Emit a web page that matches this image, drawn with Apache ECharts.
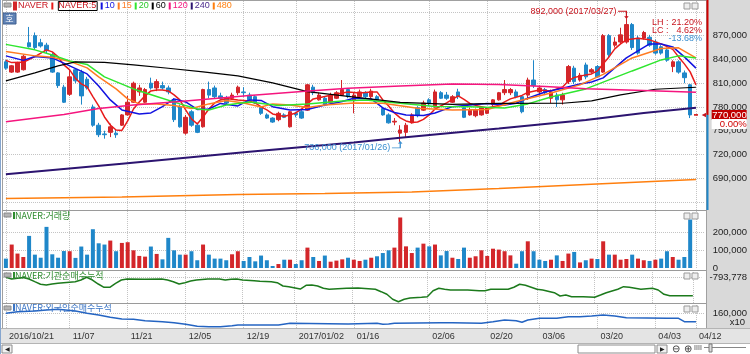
<!DOCTYPE html>
<html>
<head>
<meta charset="utf-8">
<script src="https://cdn.jsdelivr.net/npm/echarts@6/dist/echarts.min.js"></script>
<style>
html, body { margin: 0; padding: 0; background: #fff; }
#chart { width: 750px; height: 354px; }
</style>
</head>
<body>
<div id="chart"></div>
<script>
const FONT = "'Liberation Sans Narrow','Liberation Sans',Arial,sans-serif";
const KR = "'Noto Sans CJK KR','Liberation Sans',sans-serif";
const UP = '#d3262a', DOWN = '#1f87c9';

// trading days shown on the chart
const dates = [
  '2016/10/21','2016/10/24','2016/10/25','2016/10/26','2016/10/27','2016/10/28','2016/10/31',
  '2016/11/01','2016/11/02','2016/11/03','2016/11/04','2016/11/07','2016/11/08','2016/11/09','2016/11/10','2016/11/11',
  '2016/11/14','2016/11/15','2016/11/16','2016/11/17','2016/11/18','2016/11/21','2016/11/22','2016/11/23','2016/11/24','2016/11/25',
  '2016/11/28','2016/11/29','2016/11/30',
  '2016/12/01','2016/12/02','2016/12/05','2016/12/06','2016/12/07','2016/12/08','2016/12/09',
  '2016/12/12','2016/12/13','2016/12/14','2016/12/15','2016/12/16','2016/12/19','2016/12/20','2016/12/21','2016/12/22','2016/12/23',
  '2016/12/26','2016/12/27','2016/12/28','2016/12/29',
  '2017/01/02','2017/01/03','2017/01/04','2017/01/05','2017/01/06','2017/01/09','2017/01/10','2017/01/11','2017/01/12','2017/01/13',
  '2017/01/16','2017/01/17','2017/01/18','2017/01/19','2017/01/20','2017/01/23','2017/01/24','2017/01/25','2017/01/26','2017/01/31',
  '2017/02/01','2017/02/02','2017/02/03','2017/02/06','2017/02/07','2017/02/08','2017/02/09','2017/02/10',
  '2017/02/13','2017/02/14','2017/02/15','2017/02/16','2017/02/17','2017/02/20','2017/02/21','2017/02/22','2017/02/23','2017/02/24',
  '2017/02/27','2017/02/28',
  '2017/03/02','2017/03/03','2017/03/06','2017/03/07','2017/03/08','2017/03/09','2017/03/10',
  '2017/03/13','2017/03/14','2017/03/15','2017/03/16','2017/03/17','2017/03/20','2017/03/21','2017/03/22','2017/03/23','2017/03/24',
  '2017/03/27','2017/03/28','2017/03/29','2017/03/30','2017/03/31',
  '2017/04/03','2017/04/04','2017/04/05','2017/04/06','2017/04/07','2017/04/10','2017/04/11','2017/04/12'
];
const tickDates = ['2016/10/21','2016/11/07','2016/11/21','2016/12/05','2016/12/19','2017/01/02','2017/01/16',
  '2017/02/06','2017/02/20','2017/03/06','2017/03/20','2017/04/03','2017/04/12'];
const fullDates = ['2016/10/21', '2017/01/02'];

const openP = [
  837000, 824000, 824000, 827000, 861000, 870000, 861000, 858000, 846000, 823000,
  805000, 796000, 827000, 824000, 815000, 780000, 757000, 746000, 748000, 747000,
  757000, 770000, 786000, 799000, 786000, 810000, 804000, 807000, 804000, 789000,
  780000, 747000, 774000, 757000, 755000, 802000, 804000, 794000, 791000, 791000,
  798000, 799000, 795000, 793000, 779000, 770000, 766000, 764000, 770000, 755000,
  772000, 774000, 776000, 805000, 789000, 791000, 786000, 791000, 795000, 802000,
  789000, 793000, 798000, 793000, 793000, 778000, 770000, 761000, 747000, 748000,
  760000, 779000, 776000, 789000, 780000, 798000, 795000, 786000, 799000, 779000,
  770000, 769000, 770000, 772000, 783000, 789000, 798000, 798000, 799000, 793000,
  795000, 814000, 799000, 802000, 791000, 795000, 789000, 812000, 829000, 814000,
  833000, 824000, 831000, 824000, 870000, 858000, 862000, 862000, 884000, 867000,
  867000, 868000, 862000, 856000, 852000, 831000, 837000, 823000, 808000
];
const closeP = [
  829000, 832000, 836000, 844000, 856000, 855000, 857000, 851000, 824000, 807000,
  786000, 818000, 813000, 794000, 804000, 757000, 745000, 745000, 755000, 745000,
  770000, 786000, 810000, 804000, 802000, 804000, 812000, 804000, 799000, 764000,
  755000, 767000, 757000, 748000, 802000, 795000, 793000, 791000, 785000, 795000,
  805000, 798000, 789000, 785000, 772000, 766000, 761000, 772000, 767000, 774000,
  770000, 766000, 808000, 798000, 795000, 783000, 795000, 798000, 802000, 793000,
  795000, 799000, 793000, 800000, 789000, 770000, 760000, 762000, 751000, 757000,
  770000, 769000, 785000, 784000, 799000, 791000, 791000, 793000, 793000, 767000,
  776000, 776000, 779000, 779000, 789000, 798000, 802000, 802000, 793000, 774000,
  814000, 807000, 804000, 798000, 799000, 789000, 795000, 831000, 812000, 820000,
  818000, 827000, 818000, 870000, 846000, 862000, 871000, 884000, 855000, 848000,
  874000, 858000, 848000, 848000, 839000, 837000, 824000, 817000, 770000
];
const lowP = [
  827000, 823000, 823000, 826000, 855000, 852000, 855000, 848000, 823000, 804000,
  785000, 794000, 810000, 783000, 802000, 755000, 742000, 740000, 742000, 741000,
  756000, 769000, 785000, 794000, 785000, 802000, 800000, 802000, 796000, 761000,
  754000, 745000, 755000, 747000, 754000, 791000, 791000, 789000, 783000, 789000,
  795000, 793000, 788000, 784000, 770000, 765000, 760000, 762000, 766000, 754000,
  767000, 765000, 775000, 795000, 788000, 781000, 785000, 790000, 794000, 791000,
  772000, 791000, 791000, 791000, 788000, 769000, 759000, 757000, 736000, 741000,
  759000, 767000, 775000, 781000, 779000, 790000, 789000, 785000, 790000, 766000,
  769000, 767000, 769000, 771000, 781000, 788000, 795000, 795000, 791000, 772000,
  789000, 804000, 796000, 795000, 785000, 780000, 783000, 809000, 809000, 812000,
  815000, 822000, 817000, 823000, 843000, 855000, 860000, 860000, 852000, 846000,
  865000, 856000, 846000, 846000, 837000, 824000, 822000, 810000, 766000
];
const highP = [
  839000, 833000, 837000, 846000, 881000, 874000, 866000, 861000, 848000, 824000,
  808000, 827000, 829000, 827000, 818000, 783000, 760000, 750000, 759000, 751000,
  771000, 794000, 812000, 808000, 804000, 817000, 815000, 812000, 807000, 791000,
  783000, 770000, 776000, 760000, 803000, 812000, 807000, 798000, 794000, 798000,
  807000, 805000, 798000, 795000, 781000, 772000, 767000, 774000, 772000, 775000,
  774000, 776000, 809000, 808000, 798000, 794000, 798000, 800000, 814000, 804000,
  798000, 802000, 800000, 803000, 795000, 780000, 772000, 766000, 757000, 760000,
  772000, 781000, 788000, 791000, 802000, 800000, 799000, 795000, 803000, 781000,
  779000, 778000, 781000, 780000, 790000, 799000, 814000, 804000, 802000, 795000,
  817000, 839000, 807000, 804000, 802000, 798000, 798000, 833000, 832000, 823000,
  836000, 829000, 833000, 872000, 872000, 868000, 880000, 892000, 886000, 870000,
  876000, 871000, 865000, 858000, 855000, 839000, 839000, 826000, 809000
];
const volume = [
  52000, 130000, 80000, 61000, 178000, 74000, 57000, 228000, 76000, 57000,
  94000, 93000, 56000, 119000, 74000, 215000, 137000, 130000, 152000, 93000,
  139000, 143000, 98000, 67000, 63000, 119000, 78000, 48000, 167000, 98000,
  74000, 74000, 93000, 43000, 130000, 74000, 52000, 52000, 43000, 76000,
  93000, 39000, 61000, 37000, 69000, 43000, 11000, 22000, 46000, 46000,
  22000, 43000, 113000, 61000, 39000, 69000, 35000, 41000, 48000, 57000,
  46000, 39000, 46000, 57000, 65000, 83000, 98000, 113000, 280000, 120000,
  83000, 113000, 135000, 120000, 130000, 70000, 94000, 57000, 50000, 113000,
  57000, 65000, 98000, 67000, 107000, 102000, 93000, 70000, 24000, 93000,
  148000, 93000, 46000, 39000, 46000, 70000, 39000, 80000, 89000, 31000,
  43000, 52000, 50000, 148000, 74000, 74000, 46000, 50000, 74000, 52000,
  43000, 39000, 46000, 52000, 93000, 61000, 46000, 61000, 269000
];
const volUp = [
  0,1,1,1,0,0,0,0,0,0, 0,1,0,0,0,0,0,0,1,0, 1,1,1,1,1,0,1,0,0,0, 0,1,0,0,1,0,0,0,0,1,
  1,0,0,0,0,0,0,1,0,1, 0,0,1,0,1,0,1,1,1,0, 1,1,0,1,0,0,0,1,1,1, 1,0,1,0,1,0,0,1,0,0,
  1,1,1,1,1,1,1,1,0,0, 1,0,0,0,1,0,1,1,0,1, 0,1,0,1,0,1,1,1,0,1, 1,0,1,0,0,1,0,0,0
];

// moving averages as drawn, [day index, price]
const ma5 = [[0,838800],[1,836000],[3,836300],[5,843600],[7,852100],[8,849500],[9,843200],[10,833100],[11,826800],
  [12,816100],[13,809100],[14,805300],[15,793100],[16,781300],[17,767400],[18,757300],[19,751000],[20,750400],
  [21,762400],[22,777500],[23,786400],[24,794000],[25,800300],[26,801500],[27,801500],[28,800300],[29,795200],
  [30,788900],[31,776300],[32,764900],[33,758600],[34,767400],[35,777500],[36,785100],[37,788900],[38,790800],
  [40,788900],[42,787600],[43,785100],[44,780100],[45,776300],[46,771200],[48,768100],[50,772500],[51,777500],
  [52,783900],[53,790200],[55,793100],[57,796500],[59,799000],[61,797700],[63,799000],[64,799000],[65,788900],
  [66,781300],[67,772500],[68,766200],[69,762400],[70,760500],[71,761100],[72,764300],[73,770000],[74,777500],
  [76,785100],[78,794000],[79,789500],[80,784500],[81,782000],[83,778800],[85,781900],[86,786400],[87,790200],
  [89,794600],[90,798400],[92,801500],[94,800300],[95,802800],[96,805300],[97,812900],[98,817300],[100,820500],
  [101,821700],[102,825500],[103,834400],[104,843200],[105,853300],[106,859600],[107,864700],[109,866600],
  [111,864700],[113,859600],[115,852700],[116,843200],[117,834400],[118,824300],[119,807900]];
const ma10 = [[0,844500],[3,838800],[5,843600],[8,841900],[11,831800],[14,821700],[16,806600],[18,788900],
  [20,776300],[23,771200],[25,772500],[27,780400],[29,790200],[31,786400],[33,776900],[35,777500],[37,784500],
  [40,781300],[42,788900],[44,788300],[46,780400],[49,776300],[52,776900],[55,782600],[58,786800],[60,791100],
  [63,790200],[65,778800],[67,773100],[69,770000],[72,769300],[74,772500],[77,780400],[80,782600],[83,784500],
  [86,782600],[88,784700],[90,791100],[93,799000],[96,803700],[99,809100],[101,811600],[103,816700],[105,829300],
  [107,841900],[109,850800],[111,859600],[113,859600],[115,855800],[117,843200],[119,829000]];
const ma15 = [[0,849900],[5,844500],[8,842800],[11,837500],[14,829300],[16,818000],[19,802800],[21,790200],
  [23,783900],[26,783900],[29,781900],[32,778200],[35,783900],[38,788300],[41,785100],[44,780100],[46,783900],
  [49,782600],[52,779400],[55,782600],[60,785100],[65,784700],[71,778400],[77,776300],[83,776900],[88,786800],
  [94,797700],[99,807900],[103,821100],[108,841900],[113,853900],[116,854600],[119,841900]];
const ma20 = [[0,859000],[5,852100],[8,845700],[11,838200],[14,833700],[17,818000],[22,802800],[26,793300],
  [30,783900],[33,777500],[35,776300],[38,782600],[42,786400],[47,782000],[52,783900],[58,787600],[62,788900],
  [68,784700],[74,780700],[80,780400],[86,778800],[90,783900],[94,792700],[100,802800],[104,814200],[108,825500],
  [113,839400],[116,844500],[119,841900]];
const ma60 = [[0,812900],[5,823000],[9,831800],[12,836900],[17,836300],[22,833100],[28,828900],[34,824300],
  [40,819200],[46,810400],[52,799400],[59,793300],[68,785700],[77,783200],[85,784500],[96,784700],[101,787600],
  [106,795200],[112,802400],[119,804900]];
const ma120 = [[0,761500],[10,770600],[16,778200],[22,782600],[30,787000],[42,794600],[51,799400],[59,803700],
  [68,806600],[77,809100],[85,808500],[93,806000],[100,803100],[110,800900],[119,798600]];
const ma240 = [[0,695100],[20,708500],[42,723600],[60,735200],[68,741300],[85,752900],[100,763600],[110,772500],[119,779000]];
const ma480 = [[0,664500],[20,666400],[40,669600],[55,670800],[70,672700],[85,677100],[100,682200],[119,688600]];

// cumulative net buying, institutions (shares) and foreigners (x10 shares)
const instCum = [[0,-801000],[1,-844000],[3,-806000],[4,-844000],[5,-911000],[6,-976000],[7,-994000],[8,-969000],
  [9,-951000],[10,-936000],[12,-911000],[13,-869000],[14,-801000],[15,-869000],[16,-969000],[17,-1051000],
  [18,-1051000],[19,-951000],[20,-869000],[21,-844000],[24,-851000],[27,-844000],[28,-869000],[29,-911000],
  [30,-969000],[31,-936000],[32,-894000],[33,-869000],[35,-844000],[37,-844000],[38,-869000],[39,-851000],
  [40,-844000],[41,-869000],[43,-886000],[44,-901000],[46,-911000],[47,-936000],[48,-1019000],[49,-1036000],
  [51,-1094000],[52,-1001000],[53,-994000],[54,-1019000],[55,-1076000],[56,-1101000],[59,-1076000],[61,-1069000],
  [64,-1101000],[65,-1161000],[66,-1226000],[67,-1351000],[68,-1411000],[69,-1351000],[70,-1319000],[72,-1301000],
  [73,-1286000],[74,-1136000],[75,-1076000],[76,-1101000],[77,-1119000],[80,-1119000],[82,-1136000],[83,-1136000],
  [84,-1101000],[87,-1101000],[88,-1051000],[89,-976000],[90,-1001000],[91,-1051000],[92,-1101000],[93,-1119000],
  [95,-1186000],[96,-1269000],[97,-1244000],[98,-1286000],[100,-1286000],[102,-1301000],[103,-1244000],
  [104,-1186000],[106,-1101000],[107,-1036000],[108,-1051000],[110,-1101000],[111,-1086000],[112,-1076000],
  [113,-1119000],[114,-1226000],[115,-1261000],[119,-1261000]];
const foreignCum = [[0,158500],[2,166500],[5,170000],[7,175000],[9,178500],[12,170000],[14,158500],[16,150000],
  [18,138500],[20,130000],[22,128500],[24,121500],[27,116500],[29,111500],[31,103500],[33,93500],[35,91500],
  [37,91500],[39,96500],[40,100000],[47,100000],[49,108500],[59,105000],[64,108500],[65,103500],[66,105000],
  [67,108500],[75,111500],[77,111500],[82,108500],[84,116500],[86,125000],[88,121500],[89,113500],[90,125000],
  [92,133500],[95,133500],[97,141500],[99,141500],[101,145000],[103,150000],[105,145000],[107,136500],
  [114,133500],[116,133500],[117,116500],[119,116500]];

const priceTicks = [660000, 690000, 720000, 750000, 780000, 810000, 840000, 870000, 900000];
const priceLabels = [690000, 720000, 750000, 780000, 810000, 840000, 870000];

const fmt = v => v.toLocaleString('en-US');
const cats = dates.concat(['']);
const last = closeP.length - 1;
const lastClose = closeP[last];
const hiVal = Math.max(...highP), hiIdx = highP.indexOf(hiVal);
const loVal = Math.min(...lowP), loIdx = lowP.indexOf(loVal);
const pct = (a, b) => ((a - b) / b * 100).toFixed(2) + '%';

const candleData = openP.map((o, i) => [o, closeP[i], lowP[i], highP[i]]);
const volData = volume.map((v, i) => ({ value: v, itemStyle: { color: volUp[i] ? UP : DOWN } }));
const vLines = {
  silent: true, symbol: 'none', z: 1, animation: false,
  label: { show: false },
  lineStyle: { color: '#c4c4c4', type: 'dotted', width: 1 },
  data: tickDates.map(d => ({ xAxis: d }))
};

const maDefs = [
  ['NAVER:5', ma5, '#e81b1b', 1.5],
  ['10', ma10, '#1212e0', 1.5],
  ['15', ma15, '#ff7b22', 1.5],
  ['20', ma20, '#2fe62f', 1.5],
  ['60', ma60, '#000000', 1.2],
  ['120', ma120, '#f5157e', 1.5],
  ['240', ma240, '#2c1470', 2],
  ['480', ma480, '#ff7f0e', 1.5]
];
const legendColors = ['#c8141e', '#c8141e', '#1212e0', '#ff7b22', '#2cc82c', '#000000', '#f5157e', '#4b2a8c', '#ff7f0e'];

function yAx(grid, min, max, labels, ticks) {
  return {
    type: 'value', gridIndex: grid, position: 'right', min: min, max: max,
    axisLine: { show: false },
    axisTick: { show: false, customValues: ticks },
    splitLine: { show: true, lineStyle: { color: '#c4c4c4', type: 'dotted', width: 1 } },
    axisLabel: { customValues: labels, margin: 8, color: '#222', fontSize: 9.5, fontFamily: FONT, formatter: fmt }
  };
}
function xAx(grid) {
  const a = {
    type: 'category', gridIndex: grid, data: cats, boundaryGap: true,
    axisLine: { show: false }, axisTick: { show: false }, splitLine: { show: false },
    axisLabel: { show: false }
  };
  if (grid === 3) {
    a.axisLabel = {
      show: true, interval: (i, v) => tickDates.indexOf(v) >= 0,
      formatter: v => fullDates.indexOf(v) >= 0 ? v : v.slice(5),
      align: 'left', margin: 4, padding: [0, 0, 0, 3], color: '#333', fontSize: 9, fontFamily: FONT
    };
  }
  return a;
}

function rect(id, x, y, w, h, fill, stroke, z) {
  return { type: 'rect', id: id, z: z == null ? -1 : z, silent: true,
    shape: { x: x, y: y, width: w, height: h }, style: { fill: fill, stroke: stroke || null, lineWidth: 1 } };
}
function line(id, x1, y1, x2, y2, color, w) {
  return { type: 'line', id: id, z: 8, silent: true, shape: { x1: x1, y1: y1, x2: x2, y2: y2 },
    style: { stroke: color, lineWidth: w || 1 } };
}
function txt(id, x, y, text, color, size, align, family) {
  return { type: 'text', id: id, x: x, y: y, z: 10, silent: true,
    style: { text: text, fill: color, font: size + 'px ' + (family || FONT),
      align: align || 'left', verticalAlign: 'middle', textAlign: align || 'left', textVerticalAlign: 'middle' } };
}

const chrome = [
  rect('bgR', 706, 0, 44, 328, '#d9d9d9'),
  rect('bgB', 0, 328, 750, 15, '#e4e4e4'),
  rect('bgS', 0, 343, 750, 11, '#ffffff'),
  line('fTop', 2, 0.5, 706, 0.5, '#a0a0a0'),
  line('fL', 2.5, 0, 2.5, 328, '#a0a0a0'),
  line('fR', 706.5, 0, 706.5, 328, '#a0a0a0'),
  line('s1', 2, 210.5, 706, 210.5, '#9a9a9a'),
  line('s2', 2, 270.5, 706, 270.5, '#9a9a9a'),
  line('s3', 2, 303.5, 706, 303.5, '#9a9a9a'),
  line('s4', 0, 328.5, 750, 328.5, '#b4b4b4'),
  line('s5', 0, 343.5, 750, 343.5, '#b4b4b4'),
  line('outer', 0.5, 0, 0.5, 354, '#86a6cf'),
  rect('hoBox', 3, 13, 13, 11, '#5f82b5', '#3e5f8f', 5),
  txt('hoTxt', 9.5, 18.5, '호', '#ffffff', 9, 'center', KR),
  rect('sbL', 2, 345, 10, 8, '#f2f2f2', '#8c8c8c', 5),
  txt('sbLt', 7, 349, '◀', '#222', 6, 'center'),
  rect('sbBox', 578, 345, 77, 8, '#ffffff', '#8c8c8c', 5),
  rect('sbR', 657, 345, 10, 8, '#f2f2f2', '#8c8c8c', 5),
  txt('sbRt', 662, 349, '▶', '#222', 6, 'center'),
  txt('zoomOut', 676, 349, '⊖', '#333', 10, 'center'),
  txt('zoomIn', 688, 349, '⊕', '#333', 10, 'center'),
  txt('bars', 698, 348, 'IIII', '#444', 7, 'center'),
  line('slider', 704, 347.5, 746, 347.5, '#888'),
  rect('knob', 709, 344, 3, 8, '#dddddd', '#777', 9),
  txt('lh', 652, 23, 'LH :', '#c8141e', 9, 'left'),
  txt('lhv', 702, 23, pct(hiVal, loVal), '#c8141e', 9, 'right'),
  txt('lc', 652, 31, 'LC :', '#c8141e', 9, 'left'),
  txt('lcv', 702, 31, pct(lastClose, loVal), '#c8141e', 9, 'right'),
  txt('hcv', 702, 39, pct(lastClose, hiVal), '#3a8fd0', 9, 'right')
];
[3, 213, 273, 306].forEach((y, k) => {
  chrome.push(rect('ico' + k, 4, y, 7, 4, '#b4b4b4', '#8a8a8a', 5));
  chrome.push(rect('btnA' + k, 684, y, 6, 6, '#eeeeee', '#9a9a9a', 5));
  chrome.push(rect('btnB' + k, 692, y, 6, 6, '#eeeeee', '#9a9a9a', 5));
});

function panelTitle(text, color, top) {
  return {
    text: '{m|}' + text, left: 13, top: top, padding: 0,
    textStyle: { fontSize: 9, fontWeight: 'normal', color: color, fontFamily: KR,
      rich: { m: { width: 2, height: 7, backgroundColor: color } } }
  };
}

const series = [
  {
    name: 'NAVER', type: 'candlestick', xAxisIndex: 0, yAxisIndex: 0, data: candleData, barWidth: 4,
    itemStyle: { color: UP, color0: DOWN, borderColor: UP, borderColor0: DOWN, borderWidth: 1 },
    markPoint: {
      silent: true, animation: false,
      data: [
        { coord: [dates[hiIdx], hiVal], symbol: 'path://M0,0 L10,0 L10,10 M8,7 L10,10 L12,7',
          symbolSize: [10, 7], symbolOffset: [-3.3, -3.5],
          itemStyle: { color: 'rgba(0,0,0,0)', borderColor: '#c8141e', borderWidth: 1 },
          label: { show: true, position: 'left', distance: 1, offset: [0, -3.5], color: '#c8141e', fontSize: 9,
            fontFamily: FONT, formatter: fmt(hiVal) + ' (' + dates[hiIdx] + ')' } },
        { coord: [dates[loIdx], loVal], symbol: 'path://M0,10 L10,10 L10,0 M8,3 L10,0 L12,3',
          symbolSize: [10, 6], symbolOffset: [-3.3, 3],
          itemStyle: { color: 'rgba(0,0,0,0)', borderColor: '#3a8fd0', borderWidth: 1 },
          label: { show: true, position: 'left', distance: 1, offset: [0, 3], color: '#3a8fd0', fontSize: 9,
            fontFamily: FONT, formatter: fmt(loVal) + ' (' + dates[loIdx] + ')' } },
        { coord: [dates[last + 1], lastClose], symbol: 'rect', symbolSize: [4, 1.5],
          itemStyle: { color: '#d00000' }, label: { show: false } }
      ]
    },
    markLine: {
      silent: true, animation: false, z: 6,
      symbol: ['none', 'path://M0,0 L10,0 L5,10 Z'], symbolSize: 6,
      lineStyle: { width: 0, color: '#c8141e' },
      label: {
        position: 'end', distance: 7, padding: [9, 0, 0, 0],
        formatter: '{p|' + fmt(lastClose) + '}\n{q|0.00%}',
        rich: {
          p: { color: '#fff', backgroundColor: '#c00000', fontSize: 9.5, lineHeight: 9, width: 35, align: 'right', fontFamily: FONT },
          q: { color: '#d00000', backgroundColor: '#fff', fontSize: 9.5, lineHeight: 9, width: 35, align: 'right', fontFamily: FONT }
        }
      },
      data: [{ yAxis: lastClose }]
    }
  }
];
maDefs.forEach((d, k) => {
  const s = {
    name: d[0], type: 'line', xAxisIndex: 0, yAxisIndex: 0, data: d[1], showSymbol: false, symbol: 'none',
    z: 3, itemStyle: { color: d[2] }, lineStyle: { color: d[2], width: d[3] }
  };
  if (k === maDefs.length - 1) s.markLine = vLines;
  series.push(s);
});
series.push({
  name: 'vol', type: 'bar', xAxisIndex: 1, yAxisIndex: 1, data: volData, barWidth: 4, markLine: vLines
});
series.push({
  name: 'inst', type: 'line', xAxisIndex: 2, yAxisIndex: 2, data: instCum, showSymbol: false, symbol: 'none',
  itemStyle: { color: '#1c7a1c' }, lineStyle: { color: '#1c7a1c', width: 1.5 }, markLine: vLines
});
series.push({
  name: 'foreign', type: 'line', xAxisIndex: 3, yAxisIndex: 3, data: foreignCum, showSymbol: false, symbol: 'none',
  itemStyle: { color: '#2464c2' }, lineStyle: { color: '#2464c2', width: 1.5 }, markLine: vLines
});

const chart = echarts.init(document.getElementById('chart'));
chart.setOption({
  animation: false,
  textStyle: { fontFamily: FONT },
  legend: {
    left: 13, top: 1, padding: 0, itemGap: 3, itemWidth: 2, itemHeight: 7, icon: 'rect', selectedMode: false,
    textStyle: { fontSize: 9, fontFamily: FONT, padding: [0, 0, 0, -3] },
    data: ['NAVER'].concat(maDefs.map(d => d[0])).map((n, i) => {
      const ts = { color: legendColors[i] };
      if (n === 'NAVER:5') { ts.borderColor = '#000'; ts.borderWidth = 1; ts.padding = [0, 1, 0, 0]; }
      return { name: n, textStyle: ts };
    })
  },
  title: [
    panelTitle('NAVER:거래량', '#2e8b2e', 211),
    panelTitle('NAVER:기관순매수누적', '#2e8b2e', 271),
    panelTitle('NAVER:외국인순매수누적', '#3a74c4', 303)
  ],
  grid: [
    { left: 3, right: 44, top: 0, height: 210 },
    { left: 3, right: 44, top: 211, height: 57 },
    { left: 3, right: 44, top: 271, height: 32 },
    { left: 3, right: 44, top: 303, height: 25 }
  ],
  xAxis: [xAx(0), xAx(1), xAx(2), xAx(3)],
  yAxis: [
    yAx(0, 650000, 915000, priceLabels, priceTicks),
    yAx(1, 0, 316000, [0, 100000, 200000], [100000, 200000]),
    yAx(2, -1443778, -643778, [-793778], [-793778]),
    yAx(3, 85000, 210000, [160000], [160000])
  ],
  series: series,
  graphic: { elements: chrome }
});

// current price bar on the right edge and the unit note of the last panel
const yNow = chart.convertToPixel({ yAxisIndex: 0 }, lastClose);
const yUnit = chart.convertToPixel({ yAxisIndex: 3 }, 160000);
chart.setOption({
  graphic: { elements: [
    line('nowUp', 707.5, 0, 707.5, yNow, '#d00000', 2),
    line('nowDn', 707.5, yNow, 707.5, 210, '#1f87c9', 2),
    txt('unit', 745, yUnit + 9, 'x10', '#222', 9.5, 'right')
  ] }
});
</script>
</body>
</html>
